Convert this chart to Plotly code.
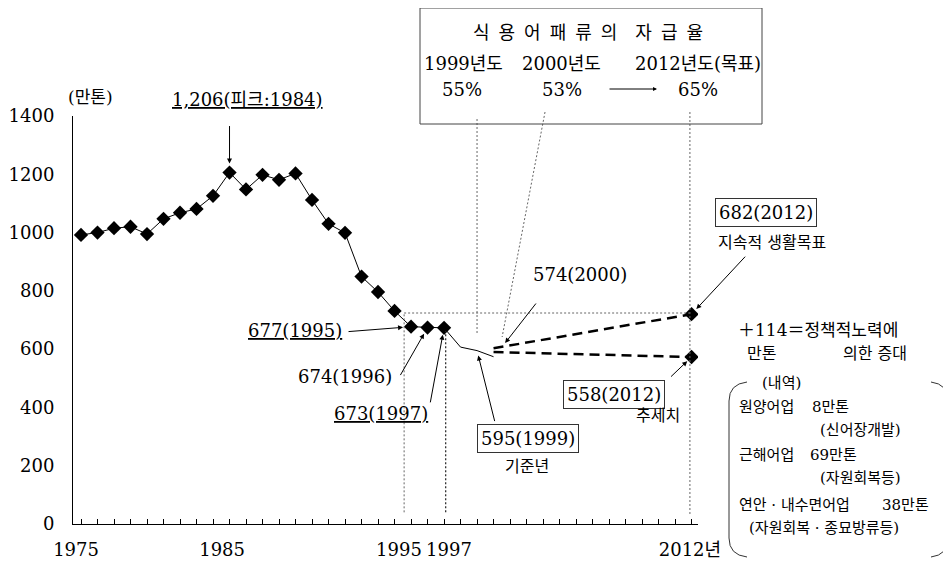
import plotly.graph_objects as go

# ---------------- data ----------------
years = list(range(1975, 1998))
catch = [992, 1000, 1015, 1020, 995, 1047, 1068, 1081, 1126, 1206, 1148,
         1198, 1181, 1203, 1112, 1030, 999, 849, 796, 731, 677, 674, 673]
recent_years = [1997, 1998, 1999, 2000]
recent_catch = [673, 607, 595, 574]
proj_years = [2000, 2012]
target_proj = [603, 720]     # sustainable-life target path (drawn position)
trend_proj = [590, 573]      # trend path (drawn position)
x_tick_years = [1975, 1985, 1995, 1997, 2012]
x_tick_text = ["1975", "1985", "1995", "1997", "2012년"]
y_ticks = [0, 200, 400, 600, 800, 1000, 1200, 1400]

FONT = "DejaVu Serif, Noto Sans CJK KR, serif"

# pixel -> paper helpers (plot area in page pixels: x 73..698, y 116..524)
def PX(x):
    return (x - 73) / 625.0

def PY(y):
    return (524 - y) / 408.0

fig = go.Figure()
fig.add_trace(go.Scatter(x=years, y=catch, mode="lines+markers",
                         line=dict(color="black", width=1),
                         marker=dict(symbol="diamond", size=11, color="black"),
                         showlegend=False))
fig.add_trace(go.Scatter(x=recent_years, y=recent_catch, mode="lines",
                         line=dict(color="black", width=1), showlegend=False))
fig.add_trace(go.Scatter(x=proj_years, y=target_proj, mode="lines",
                         line=dict(color="black", width=2.5, dash="10px,6px"),
                         showlegend=False))
fig.add_trace(go.Scatter(x=proj_years, y=trend_proj, mode="lines",
                         line=dict(color="black", width=2.5, dash="10px,6px"),
                         showlegend=False))
fig.add_trace(go.Scatter(x=[proj_years[-1], proj_years[-1]],
                         y=[target_proj[-1], trend_proj[-1]], mode="markers",
                         marker=dict(symbol="diamond", size=11, color="black"),
                         showlegend=False))

tick_shift = [-0.3, -1.45, -0.73, 0.3, -0.1]

# the page body has an 8px margin, so the figure is 8px smaller on each side
fig.update_layout(
    width=943, height=553,
    margin=dict(l=65, r=253, t=108, b=37),
    paper_bgcolor="white", plot_bgcolor="white",
    font=dict(family=FONT, color="black", size=18),
    xaxis=dict(range=[1974.515, 2012.39], showgrid=False, zeroline=False,
               automargin=False,
               showline=True, linecolor="black", linewidth=1,
               tickmode="array",
               tickvals=[y + s for y, s in zip(x_tick_years, tick_shift)],
               ticktext=x_tick_text, ticks="", ticklabelstandoff=9,
               tickfont=dict(size=18, family=FONT),
               minor=dict(tickmode="linear", tick0=1975, dtick=1,
                          ticks="inside", ticklen=5, tickcolor="black",
                          showgrid=False)),
    yaxis=dict(range=[0, 1400], showgrid=False, zeroline=False,
               automargin=False,
               showline=True, linecolor="black", linewidth=1,
               tickmode="array", tickvals=y_ticks, ticks="",
               ticklabelstandoff=14, tickfont=dict(size=18, family=FONT)),
)

dot = dict(color="#666", width=1, dash="2px,2px")
shapes = [
    dict(type="line", xref="x", yref="y", x0=1994.58, x1=1994.58, y0=40, y1=724, line=dot),
    dict(type="line", xref="x", yref="y", x0=1994.58, x1=2011.9, y0=724, y1=724, line=dot),
    dict(type="line", xref="x", yref="y", x0=1997.1, x1=1997.1, y0=40, y1=662,
         line=dict(color="#222", width=1.2, dash="2px,2px")),
    dict(type="line", xref="x", yref="paper", x0=1999.0, x1=1999.0, y0=PY(333), y1=PY(117), line=dot),
    dict(type="line", xref="x", yref="paper", x0=2003.12, x1=2000.52, y0=PY(112), y1=PY(337), line=dot),
    dict(type="line", xref="x", yref="paper", x0=2011.9, x1=2011.9, y0=PY(514), y1=PY(112), line=dot),
    # self-sufficiency box
    dict(type="rect", xref="paper", yref="paper", x0=PX(420), x1=PX(762), y0=PY(124), y1=PY(8),
         line=dict(color="#444", width=1)),
    # big parentheses
    dict(type="path", xref="paper", yref="paper",
         path=f"M {PX(747)} {PY(382)} Q {PX(729)} {PY(384)} {PX(729)} {PY(401)} "
              f"L {PX(729)} {PY(538)} Q {PX(729)} {PY(555)} {PX(747)} {PY(557)}",
         line=dict(color="#333", width=1)),
    dict(type="path", xref="paper", yref="paper",
         path=f"M {PX(931)} {PY(382)} Q {PX(948)} {PY(384)} {PX(948)} {PY(401)} "
              f"L {PX(948)} {PY(538)} Q {PX(948)} {PY(555)} {PX(931)} {PY(557)}",
         line=dict(color="#333", width=1)),
]
fig.update_layout(shapes=shapes)

ann = []

def text(t, x, y, size=18, xanchor="center", box=False):
    d = dict(text=t, x=PX(x), y=PY(y), xref="paper", yref="paper",
             showarrow=False, xanchor=xanchor, yanchor="middle",
             font=dict(size=size, family=FONT, color="black"))
    if box:
        d.update(bordercolor="#333", borderwidth=1, borderpad=3)
    ann.append(d)

def arrow(x, y, ax, ay, standoff=0, xref="x", yref="y"):
    ann.append(dict(text="", x=x, y=y, xref=xref, yref=yref, ax=ax, ay=ay,
                    showarrow=True, arrowhead=2, arrowsize=1, arrowwidth=1,
                    arrowcolor="black", standoff=standoff))

text("(만톤)", 90, 97, size=17)
text("<u>1,206(피크:1984)</u>", 247, 100)
text("<u>677(1995)</u>", 295, 330)
text("674(1996)", 345, 376)
text("<u>673(1997)</u>", 381, 413)
text("595(1999)", 528, 438, box=True)
text("기준년", 527, 466, size=16)
text("574(2000)", 580, 274)
text("682(2012)", 766, 212, box=True)
text("지속적 생활목표", 772, 242, size=16)
text("＋114＝정책적노력에", 818, 330, size=17)
text("만톤", 761, 353, size=16)
text("의한 증대", 875, 353, size=16)
text("558(2012)", 614, 394, box=True)
text("추세치", 658, 415, size=16)

# breakdown
text("(내역)", 781, 383, size=15)
text("원양어업", 737, 407, size=15, xanchor="left")
text("8만톤", 810, 407, size=15, xanchor="left")
text("(신어장개발)", 818, 430, size=15, xanchor="left")
text("근해어업", 737, 455, size=15, xanchor="left")
text("69만톤", 808, 455, size=15, xanchor="left")
text("(자원회복등)", 818, 478, size=15, xanchor="left")
text("연안 · 내수면어업", 737, 505, size=15, xanchor="left")
text("38만톤", 880, 505, size=15, xanchor="left")
text("(자원회복 · 종묘방류등)", 747, 528, size=15, xanchor="left")

# self-sufficiency box texts
sp = "\u2002"
text(sp.join("식용어패류의") + sp + sp + sp.join("자급율"), 588, 32, size=18)
text("1999년도", 463, 63)
text("2000년도", 561, 63)
text("2012년도(목표)", 698, 63)
text("55%", 462, 89)
text("53%", 562, 89)
text("65%", 698, 89)
ann.append(dict(text="", x=PX(657), y=PY(89), xref="paper", yref="paper",
                ax=-49, ay=0, showarrow=True, arrowhead=2, arrowsize=0.8,
                arrowwidth=1, arrowcolor="black"))

# arrows to data points
arrow(1984, 1206, 0, -48, standoff=9)
arrow(1995, 677, -64, 5, standoff=8)
arrow(1996, 674, -28, 49, standoff=7)
arrow(1997, 673, -14, 76, standoff=7)
arrow(1999, 595, 18, 72, standoff=5)
arrow(2000.7, 621, 32, -41, standoff=0)
arrow(2012, 720, 55, -59, standoff=7)
arrow(2012, 573, -22, 21, standoff=6)

fig.update_layout(annotations=ann)
fig.write_html("out.html")
